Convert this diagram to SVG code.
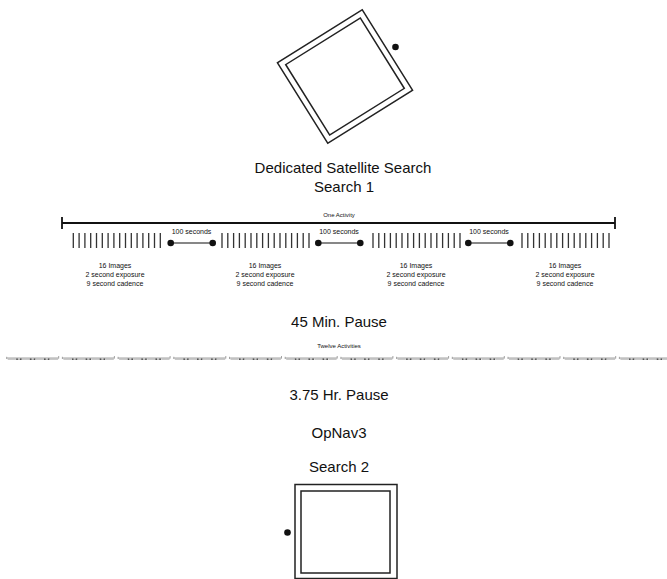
<svg xmlns="http://www.w3.org/2000/svg" xmlns:xlink="http://www.w3.org/1999/xlink" width="667" height="579" viewBox="0 0 667 579">
<style>
  text { font-family: "Liberation Sans", "Open Sans", sans-serif; fill: #111; text-anchor: middle; }
  .title { font-size: 15px; }
  .small { font-size: 7px; }
  .tiny { font-size: 6px; }
  .ln { stroke: #111; fill: none; }
  .bar { stroke: #333; stroke-width: 1.3; fill: none; }
  .sq { stroke: #222; stroke-width: 1.5; fill: #fff; }
  .mline { stroke: #999; stroke-width: 0.9; fill: none; }
  .mbar { fill: #bbb; }
  .mdot { fill: #555; }
</style>
<defs>
  <g id="bars">
    <path class="bar" d="M0 233V248M5.8 233V248M11.6 233V248M17.4 233V248M23.2 233V248M29 233V248M34.8 233V248M40.6 233V248M46.4 233V248M52.2 233V248M58 233V248M63.8 233V248M69.6 233V248M75.4 233V248M81.2 233V248M87 233V248"/>
  </g>
  <g id="dumbbell">
    <path class="ln" stroke-width="1.2" d="M0 243H42"/>
    <circle cx="0" cy="243" r="3.3" fill="#111"/>
    <circle cx="42" cy="243" r="3.3" fill="#111"/>
  </g>
  <g id="act">
    <path class="ln" stroke-width="1.8" d="M62 223H615M62 217V229M615 217V229"/>
    <use xlink:href="#bars" x="73.3"/>
    <use xlink:href="#bars" x="222"/>
    <use xlink:href="#bars" x="373"/>
    <use xlink:href="#bars" x="522"/>
    <use xlink:href="#dumbbell" x="170.7"/>
    <use xlink:href="#dumbbell" x="318.3"/>
    <use xlink:href="#dumbbell" x="468.3"/>
  </g>
  <g id="mini">
    <path class="mline" d="M0 0H52M0 -1.2V1M52 -2V0.5"/>
    <rect class="mbar" x="1" y="0.3" width="8.2" height="1.5"/>
    <rect class="mbar" x="15" y="0.3" width="8.4" height="1.5"/>
    <rect class="mbar" x="29.2" y="0.3" width="8.2" height="1.5"/>
    <rect class="mbar" x="43.2" y="0.3" width="8.2" height="1.5"/>
    <path stroke="#777" stroke-width="0.6" d="M10.2 1.3H14.1M24 1.3H27.9M38.1 1.3H42"/>
    <rect class="mdot" x="9.5" y="0.4" width="1.6" height="1.6"/>
    <rect class="mdot" x="13.3" y="0.4" width="1.6" height="1.6"/>
    <rect class="mdot" x="23.2" y="0.4" width="1.6" height="1.6"/>
    <rect class="mdot" x="27.1" y="0.4" width="1.6" height="1.6"/>
    <rect class="mdot" x="37.3" y="0.4" width="1.6" height="1.6"/>
    <rect class="mdot" x="41.2" y="0.4" width="1.6" height="1.6"/>
  </g>
</defs>

<g id="satellite-search1">
  <g transform="rotate(-32 345 76.5)">
    <rect class="sq" x="295" y="29" width="100" height="95"/>
    <rect class="sq" x="301" y="35" width="88" height="83"/>
  </g>
  <circle cx="395.5" cy="47" r="3.3" fill="#111"/>
</g>

<g id="title1">
  <text class="title" x="343" y="172.5">Dedicated Satellite Search</text>
  <text class="title" x="344" y="191.5">Search 1</text>
</g>

<g id="one-activity">
  <text class="tiny" x="339" y="217">One Activity</text>
  <use xlink:href="#act"/>
  <text class="small" x="191.5" y="233.5">100 seconds</text>
  <text class="small" x="339" y="233.5">100 seconds</text>
  <text class="small" x="489" y="233.5">100 seconds</text>
  <g>
    <text class="small" x="115" y="267.5">16 Images</text>
    <text class="small" x="115" y="276.5">2 second exposure</text>
    <text class="small" x="115" y="285.5">9 second cadence</text>
  </g>
  <g>
    <text class="small" x="265" y="267.5">16 Images</text>
    <text class="small" x="265" y="276.5">2 second exposure</text>
    <text class="small" x="265" y="285.5">9 second cadence</text>
  </g>
  <g>
    <text class="small" x="416" y="267.5">16 Images</text>
    <text class="small" x="416" y="276.5">2 second exposure</text>
    <text class="small" x="416" y="285.5">9 second cadence</text>
  </g>
  <g>
    <text class="small" x="565" y="267.5">16 Images</text>
    <text class="small" x="565" y="276.5">2 second exposure</text>
    <text class="small" x="565" y="285.5">9 second cadence</text>
  </g>
</g>

<g id="pause45">
  <text class="title" x="339" y="326.5">45 Min. Pause</text>
</g>

<g id="twelve-activities">
  <text class="tiny" x="339" y="348">Twelve Activities</text>
  <use xlink:href="#mini" x="6.7" y="358"/>
  <use xlink:href="#mini" x="62.4" y="358"/>
  <use xlink:href="#mini" x="118.1" y="358"/>
  <use xlink:href="#mini" x="173.8" y="358"/>
  <use xlink:href="#mini" x="229.5" y="358"/>
  <use xlink:href="#mini" x="285.2" y="358"/>
  <use xlink:href="#mini" x="340.9" y="358"/>
  <use xlink:href="#mini" x="396.6" y="358"/>
  <use xlink:href="#mini" x="452.3" y="358"/>
  <use xlink:href="#mini" x="508" y="358"/>
  <use xlink:href="#mini" x="563.7" y="358"/>
  <use xlink:href="#mini" x="619.4" y="358"/>
</g>

<g id="pause375">
  <text class="title" x="339" y="399.5">3.75 Hr. Pause</text>
</g>

<g id="opnav3">
  <text class="title" x="339" y="437.5">OpNav3</text>
</g>

<g id="search2">
  <text class="title" x="339" y="471.5">Search 2</text>
</g>

<g id="satellite-search2">
  <rect class="sq" x="295" y="484.5" width="102" height="94"/>
  <rect class="sq" x="301" y="491" width="89" height="82"/>
  <circle cx="287.5" cy="532.5" r="3.3" fill="#111"/>
</g>
</svg>
